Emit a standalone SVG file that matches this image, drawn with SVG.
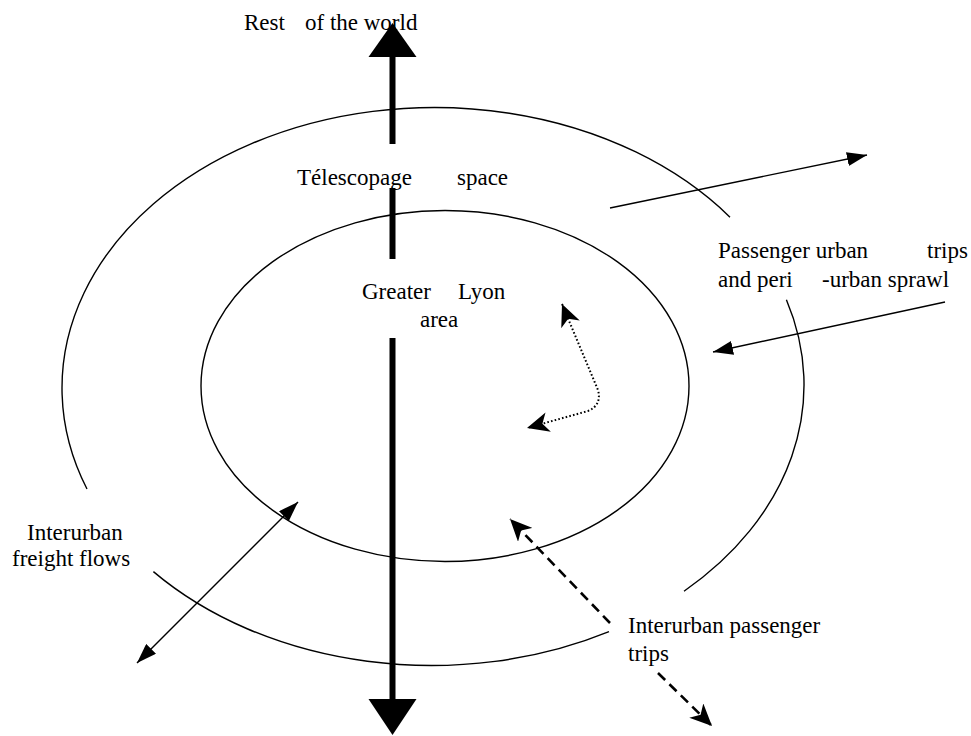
<svg xmlns="http://www.w3.org/2000/svg" width="971" height="736" viewBox="0 0 971 736">
  <style>
    text { font-family: "Liberation Serif", "Times New Roman", serif; font-size: 23px; fill: #000; }
    .ring { fill: none; stroke: #000; stroke-width: 1.4; }
    .thin { fill: none; stroke: #000; stroke-width: 1.4; }
    .dash { fill: none; stroke: #000; stroke-width: 2.6; stroke-dasharray: 10 6; }
    .dot { fill: none; stroke: #000; stroke-width: 2; stroke-dasharray: 1.6 2.2; }
    .shaft { fill: #000; }
  </style>
  <defs>
    <marker id="tri" markerUnits="userSpaceOnUse" markerWidth="20" markerHeight="14" refX="20" refY="7" orient="auto-start-reverse">
      <path d="M0,0 L20,7 L0,14 Z" fill="#000"/>
    </marker>
    <marker id="stealth" markerUnits="userSpaceOnUse" markerWidth="22" markerHeight="20" refX="22" refY="10" orient="auto-start-reverse">
      <path d="M0,0 L22,10 L0,20 L6,10 Z" fill="#000"/>
    </marker>
  </defs>

  <g id="telescopage-space">
    <path class="ring" d="M786.4,299.7 A372.5,280.5 0 0 1 684,591.2"/>
    <path class="ring" d="M609,631.6 A372.5,280.5 0 0 1 153.4,571.6"/>
    <path class="ring" d="M87,489 A372.5,280.5 0 0 1 730,217.2"/>
    <text x="297" y="185">Télescopage <tspan x="457">space</tspan></text>
  </g>

  <g id="greater-lyon">
    <ellipse class="ring" cx="445" cy="386" rx="244" ry="175.5"/>
    <text x="362" y="299">Greater <tspan x="458">Lyon</tspan></text>
    <text x="420" y="327">area</text>
  </g>

  <g id="rest-of-world">
    <text x="244" y="30">Rest <tspan x="305">of the world</tspan></text>
  </g>

  <g id="label-passenger-urban">
    <text x="718" y="258">Passenger urban <tspan x="927">trips</tspan></text>
    <text x="718" y="287">and peri <tspan x="822">-urban sprawl</tspan></text>
  </g>

  <g id="label-freight">
    <text x="27" y="540">Interurban</text>
    <text x="12" y="566">freight flows</text>
  </g>

  <g id="label-interurban-passenger">
    <text x="628" y="633">Interurban passenger</text>
    <text x="628" y="661">trips</text>
  </g>

  <g id="connectors">
    <rect class="shaft" x="389.5" y="56" width="6" height="88"/>
    <rect class="shaft" x="389.5" y="188" width="6" height="71"/>
    <rect class="shaft" x="389.5" y="338" width="6" height="362"/>
    <polygon points="392.5,23 368.5,57 416.5,57" fill="#000"/>
    <polygon points="368.5,699 416.5,699 392.5,735" fill="#000"/>
    <path class="thin" d="M610,208 L867,155" marker-end="url(#tri)"/>
    <path class="thin" d="M945,302 L713,352" marker-end="url(#tri)"/>
    <path class="dot" d="M562,304 L598,390 Q602,405 588,411 L527,428" marker-start="url(#stealth)" marker-end="url(#stealth)"/>
    <path class="dash" d="M610,623 L510,519" marker-end="url(#stealth)"/>
    <path class="dash" d="M658,673 L712,726" marker-end="url(#stealth)"/>
    <path class="thin" d="M137,663 L298,502" marker-start="url(#tri)" marker-end="url(#tri)"/>
  </g>
</svg>
